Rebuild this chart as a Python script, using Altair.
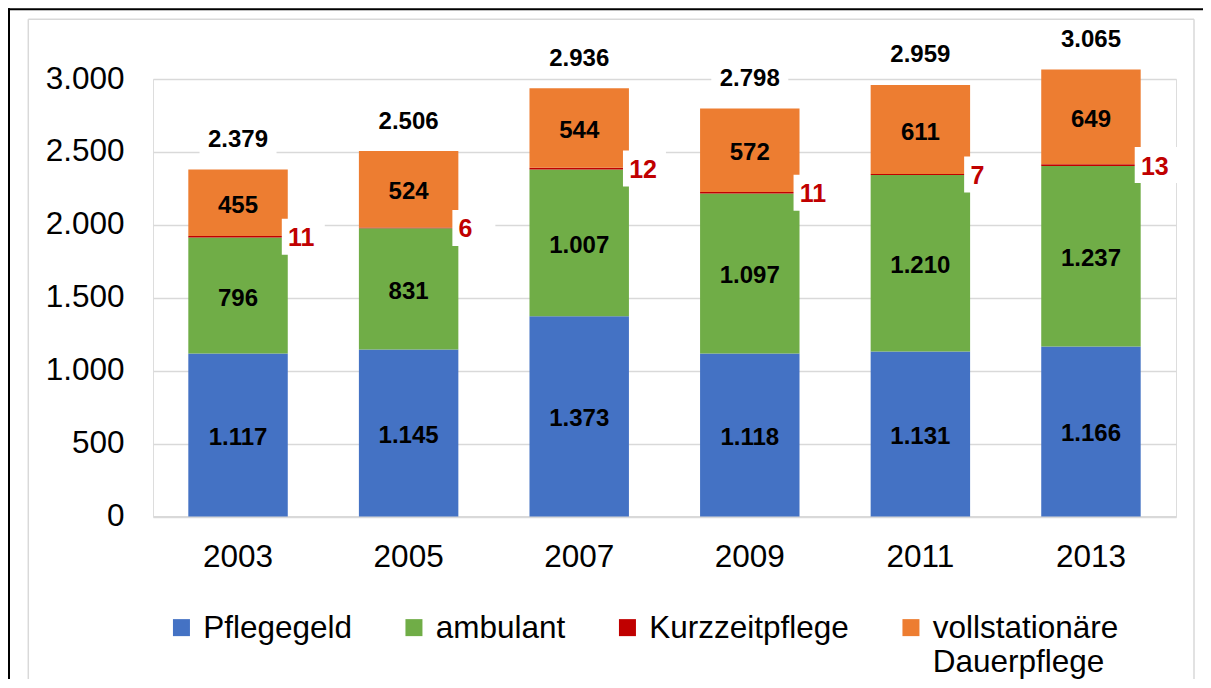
import altair as alt
import pandas as pd

# ---- data ----
years = ["2003", "2005", "2007", "2009", "2011", "2013"]
series = ["Pflegegeld", "ambulant", "Kurzzeitpflege", "vollstationäre Dauerpflege"]
pflegegeld = [1117, 1145, 1373, 1118, 1131, 1166]
ambulant = [796, 831, 1007, 1097, 1210, 1237]
kurzzeitpflege = [11, 6, 12, 11, 7, 13]
vollstationaer = [455, 524, 544, 572, 611, 649]
totals = [2379, 2506, 2936, 2798, 2959, 3065]
y_ticks = [0, 500, 1000, 1500, 2000, 2500, 3000]
colors = ["#4472C4", "#70AD47", "#C00000", "#ED7D31"]

FONT = "Liberation Sans"
LABEL_DY = 10  # shared dy of guide labels (legend baseline alignment)

# layout (pixels)
PAD_L, PAD_T, PAD_R, PAD_B = 145, 71, 27, 162.5
W, H = 1023, 437.5
SVG_R = W + PAD_R          # right svg edge relative to plot origin
SVG_B = H + PAD_B          # bottom svg edge relative to plot origin


def de(v):
    return f"{v:,}".replace(",", ".")


rows = []
for i, yr in enumerate(years):
    base = 0
    for s, vals in zip(series, [pflegegeld, ambulant, kurzzeitpflege, vollstationaer]):
        v = vals[i]
        rows.append(dict(year=yr, series=s, start=base, end=base + v,
                         mid=base + v / 2, label=de(v)))
        base += v
df = pd.DataFrame(rows)
tot = pd.DataFrame(dict(year=years, total=totals, label=[de(t) for t in totals]))

x_axis = alt.Axis(title=None, labelAngle=0, ticks=False, tickSize=0, grid=False,
                  domainColor="#d9d9d9", domainWidth=2, labelPadding=25 - LABEL_DY,
                  labelFontSize=31.5, labelFont=FONT, labelColor="black")
y_axis = alt.Axis(title=None, values=y_ticks, grid=True, gridColor="#d9d9d9",
                  gridWidth=1.5, domain=False, ticks=False, tickSize=0,
                  labelPadding=29, labelFontSize=31.5, labelFont=FONT,
                  labelColor="black", labelOffset=-LABEL_DY,
                  labelExpr="replace(format(datum.value, ','), ',', '.')")
x_scale = alt.Scale(domain=years, paddingInner=0.417, paddingOuter=0.207)
y_scale = alt.Scale(domain=[0, 3000], nice=False, zero=True)


def X():
    return alt.X("year:N", scale=x_scale, axis=x_axis)


def Y(field):
    return alt.Y(f"{field}:Q", scale=y_scale, axis=y_axis)


frame_df = pd.DataFrame({"k": [0]})


def hrule(x1, x2, y, color, w):
    return alt.Chart(frame_df).mark_rule(color=color, strokeWidth=w).encode(
        x=alt.value(x1), x2=alt.value(x2), y=alt.value(y))


def vrule(x, y1, y2, color, w):
    return alt.Chart(frame_df).mark_rule(color=color, strokeWidth=w).encode(
        x=alt.value(x), y=alt.value(y1), y2=alt.value(y2))


frames = [
    hrule(-PAD_L, SVG_R, -69.7, "black", 2),
    vrule(-144, -70.7, SVG_B, "black", 2),
    hrule(-124.7, 1041, -59.7, "#d9d9d9", 1.5),
    vrule(-124.7, -59.7, SVG_B, "#d9d9d9", 1.5),
    vrule(1041, -59.7, SVG_B, "#d9d9d9", 1.5),
]

bars = alt.Chart(df).mark_bar(strokeWidth=0).encode(
    x=X(), y=Y("start"), y2="end:Q",
    color=alt.Color("series:N", scale=alt.Scale(domain=series, range=colors),
                    legend=alt.Legend(
                        title=None, orient="none", legendX=12.7, legendY=532.5,
                        direction="horizontal", columns=4, symbolType="square",
                        symbolSize=289, symbolStrokeWidth=0, labelFontSize=31.5,
                        labelFont=FONT, labelColor="black", labelOffset=6,
                        labelBaseline="alphabetic",
                        columnPadding=45.5, labelLimit=600, padding=0,
                        labelExpr="datum.label == 'vollstationäre Dauerpflege' ? ['vollstationäre', 'Dauerpflege'] : [datum.label, ' ']")),
)

seg_labels = alt.Chart(df[df.series != "Kurzzeitpflege"]).mark_text(
    font=FONT, fontSize=24, fontWeight="bold", color="black", dy=3).encode(
    x=X(), y=Y("mid"), text="label:N")

kz = df[df.series == "Kurzzeitpflege"]
kz_box = alt.Chart(kz).mark_point(
    shape="M-1.194,-1H1.194V1H-1.194Z", size=1296, filled=True, fill="white",
    opacity=1, strokeWidth=0, xOffset=65.25).encode(x=X(), y=Y("mid"))
kz_text = alt.Chart(kz).mark_text(
    font=FONT, fontSize=25, fontWeight="bold", color="#C00000", align="left",
    dx=50, dy=1.5).encode(x=X(), y=Y("mid"), text="label:N")

tot_box = alt.Chart(tot).mark_point(
    shape="M-2.139,-1H2.139V1H-2.139Z", size=1296, filled=True, fill="white",
    opacity=1, strokeWidth=0, yOffset=-31).encode(x=X(), y=Y("total"))
tot_text = alt.Chart(tot).mark_text(
    font=FONT, fontSize=24, fontWeight="bold", color="black", dy=-29.5).encode(
    x=X(), y=Y("total"), text="label:N")

chart = alt.layer(*frames, bars, kz_box, tot_box, seg_labels, kz_text, tot_text).properties(
    width=W, height=H,
    autosize=alt.AutoSizeParams(type="none"),
    padding={"left": PAD_L, "top": PAD_T, "right": PAD_R, "bottom": PAD_B},
    background="white",
).configure_view(stroke=None).configure(
    style={"guide-label": {"lineHeight": 34, "dy": LABEL_DY}}
)

chart.save("out.html", embed_options={"renderer": "svg", "actions": False})
